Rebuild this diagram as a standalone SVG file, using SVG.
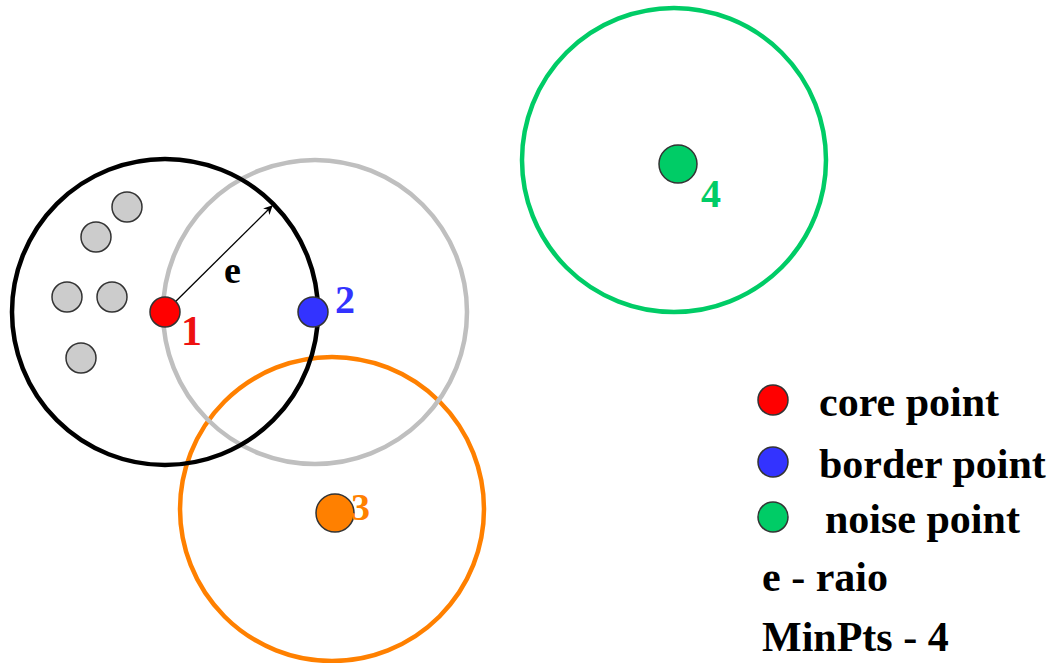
<svg xmlns="http://www.w3.org/2000/svg" width="1056" height="663" viewBox="0 0 1056 663">
  <style>
    .ring { fill: none; stroke-width: 4.5; }
    .pt { stroke: #333333; stroke-width: 1.5; }
    .lbl { font-family: "Liberation Serif", "Times New Roman", serif; font-weight: bold; }
    .key { font-size: 42px; fill: #000000; }
  </style>
  <defs>
    <marker id="arrowhead" viewBox="0 0 10 10" refX="9" refY="5" markerWidth="9" markerHeight="9" orient="auto" markerUnits="userSpaceOnUse">
      <path d="M0,0 L10,5 L0,10 L3,5 Z" fill="#000000"/>
    </marker>
  </defs>
  <rect width="1056" height="663" fill="#ffffff"/>

  <!-- neighbourhood circles of radius e -->
  <g id="circle-3"><circle class="ring" cx="332" cy="509" r="152" stroke="#ff8000"/></g>
  <g id="circle-2"><circle class="ring" cx="315" cy="312" r="152" stroke="#bfbfbf"/></g>
  <g id="circle-1"><circle class="ring" cx="165" cy="312" r="153" stroke="#000000"/></g>
  <g id="circle-4"><circle class="ring" cx="674" cy="160" r="152" stroke="#00cc66"/></g>

  <!-- radius arrow -->
  <g id="connectors">
    <line x1="165" y1="312" x2="272" y2="206" stroke="#000000" stroke-width="1.3" marker-end="url(#arrowhead)"/>
  </g>
  <text class="lbl" x="224" y="283" font-size="38" fill="#000000">e</text>

  <!-- neighbours of point 1 -->
  <g id="neighbours">
    <circle class="pt" cx="127" cy="207" r="15" fill="#cccccc"/>
    <circle class="pt" cx="96" cy="237" r="15" fill="#cccccc"/>
    <circle class="pt" cx="67" cy="297" r="15" fill="#cccccc"/>
    <circle class="pt" cx="112" cy="297" r="15" fill="#cccccc"/>
    <circle class="pt" cx="81" cy="358" r="15" fill="#cccccc"/>
  </g>

  <g id="point-1">
    <circle class="pt" cx="165" cy="312" r="15" fill="#ff0000"/>
    <text class="lbl" x="181" y="345" font-size="42" fill="#ee1111">1</text>
  </g>
  <g id="point-2">
    <circle class="pt" cx="313" cy="312" r="15" fill="#3333ff"/>
    <text class="lbl" x="335" y="313" font-size="40" fill="#3333ff">2</text>
  </g>
  <g id="point-3">
    <circle class="pt" cx="335" cy="513" r="19" fill="#ff8000"/>
    <text class="lbl" x="351" y="520" font-size="38" fill="#ff8000">3</text>
  </g>
  <g id="point-4">
    <circle class="pt" cx="678" cy="164" r="19" fill="#00cc66"/>
    <text class="lbl" x="701" y="207" font-size="40" fill="#00cc66">4</text>
  </g>

  <!-- legend -->
  <g id="legend">
    <circle class="pt" cx="773" cy="400" r="15" fill="#ff0000"/>
    <text class="lbl key" x="819" y="416">core point</text>
    <circle class="pt" cx="773" cy="462" r="15" fill="#3333ff"/>
    <text class="lbl key" x="819" y="478">border point</text>
    <circle class="pt" cx="773" cy="517" r="15" fill="#00cc66"/>
    <text class="lbl key" x="825" y="533">noise point</text>
    <text class="lbl key" x="762" y="591">e - raio</text>
    <text class="lbl key" x="762" y="651">MinPts - 4</text>
  </g>
</svg>
